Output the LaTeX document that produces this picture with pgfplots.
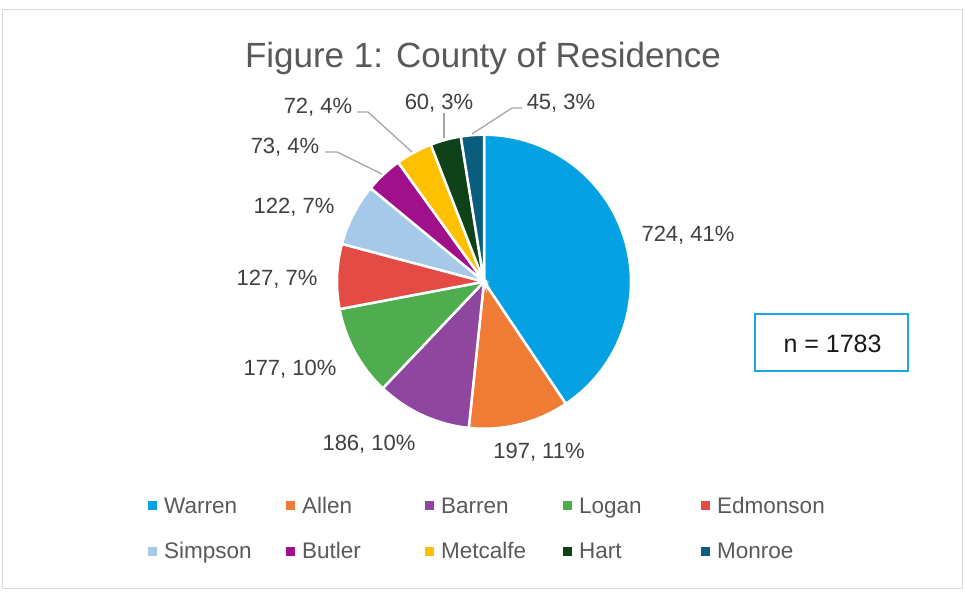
\documentclass[border=0pt]{standalone}
\usepackage{pgfplots}
\usepackage{pgfplotstable}
\pgfplotsset{compat=1.18}
\usepackage{fontspec}
\setmainfont{Liberation Sans}

\definecolor{pc0}{HTML}{06A1E3}
\definecolor{pc1}{HTML}{EF7B35}
\definecolor{pc2}{HTML}{8E469E}
\definecolor{pc3}{HTML}{4FAD50}
\definecolor{pc4}{HTML}{E54B45}
\definecolor{pc5}{HTML}{A6C9EA}
\definecolor{pc6}{HTML}{A0108B}
\definecolor{pc7}{HTML}{FFC000}
\definecolor{pc8}{HTML}{104219}
\definecolor{pc9}{HTML}{0B5D7E}
\definecolor{titlegray}{HTML}{595959}
\definecolor{lblgray}{HTML}{404040}
\definecolor{leadgray}{HTML}{A6A6A6}
\definecolor{framegray}{HTML}{D9D9D9}
\definecolor{boxblue}{HTML}{1CA6E2}

\pgfplotstableread{
county value
Warren 724
Allen 197
Barren 186
Logan 177
Edmonson 127
Simpson 122
Butler 73
Metcalfe 72
Hart 60
Monroe 45
}\piedata

\newcommand\lblfont{\fontsize{22bp}{26bp}\selectfont}
\newcommand\legfont{\fontsize{22.5bp}{26bp}\selectfont}
\def\total{1783}
\def\cx{484}
\def\cy{281.7}
\def\rr{147}

\begin{document}
\begin{tikzpicture}
\gdef\cum{0}
\begin{axis}[
  scale only axis, width=965bp, height=592bp,
  xmin=0, xmax=965, ymin=0, ymax=592, y dir=reverse,
  hide axis, clip=false,
]
\path (axis cs:0,0) rectangle (axis cs:965,592);
% frame
\draw[framegray, line width=1.3bp] (axis cs:2.5,9.5) rectangle (axis cs:962.5,588.5);

% pie slices, angles from the values
\pgfplotsinvokeforeach{0,...,9}{
  \pgfplotstablegetelem{#1}{value}\of\piedata
  \pgfmathsetmacro\sA{90-360*(\cum/\total)}
  \pgfmathsetmacro\cumnew{\cum+\pgfplotsretval}
  \global\let\cum\cumnew
  \pgfmathsetmacro\eA{90-360*(\cum/\total)}
  \global\let\sAng\sA
  \global\let\eAng\eA
  \addplot[fill=pc#1, draw=white, line width=2.5bp, domain=\eAng:\sAng, samples=80, variable=\t]
    ({\cx+\rr*cos(\t)},{\cy-\rr*sin(\t)}) -- (axis cs:\cx,\cy) -- cycle;
}

% leader lines
\addplot[leadgray, line width=1.3bp, mark=none] coordinates {(522,108) (512,108) (472,134)};
\addplot[leadgray, line width=1.3bp, mark=none] coordinates {(444,113) (444,138)};
\addplot[leadgray, line width=1.3bp, mark=none] coordinates {(357,112) (368,112) (412,152)};
\addplot[leadgray, line width=1.3bp, mark=none] coordinates {(325,152) (337,152) (382,174)};

% data labels
\begin{scope}[every node/.style={font=\lblfont, text=lblgray, anchor=base, inner sep=0pt}]
\node at (axis cs:688,241) {724, 41\%};
\node at (axis cs:539,458) {197, 11\%};
\node at (axis cs:369,450) {186, 10\%};
\node at (axis cs:290,375) {177, 10\%};
\node at (axis cs:277,285) {127, 7\%};
\node at (axis cs:294,213) {122, 7\%};
\node at (axis cs:285,153) {73, 4\%};
\node at (axis cs:318,113) {72, 4\%};
\node at (axis cs:439,109) {60, 3\%};
\node at (axis cs:561,109) {45, 3\%};
\end{scope}

% title
\node[font=\fontsize{35bp}{40bp}\selectfont, text=titlegray, anchor=base, inner sep=0pt] at (axis cs:483,68) {Figure 1: County of Residence};

% n box
\draw[boxblue, line width=2.5bp] (axis cs:755,314) rectangle (axis cs:908,371);
\node[font=\fontsize{25bp}{30bp}\selectfont, text=black!90, anchor=base, inner sep=0pt] at (axis cs:832.5,352) {n = 1783};

% legend
\addplot[only marks, mark=square*, mark size=4bp, pc0] coordinates {(152,505)};
\addplot[only marks, mark=square*, mark size=4bp, pc1] coordinates {(290,505)};
\addplot[only marks, mark=square*, mark size=4bp, pc2] coordinates {(429,505)};
\addplot[only marks, mark=square*, mark size=4bp, pc3] coordinates {(567,505)};
\addplot[only marks, mark=square*, mark size=4bp, pc4] coordinates {(705,505)};
\addplot[only marks, mark=square*, mark size=4bp, pc5] coordinates {(152,551)};
\addplot[only marks, mark=square*, mark size=4bp, pc6] coordinates {(290,551)};
\addplot[only marks, mark=square*, mark size=4bp, pc7] coordinates {(429,551)};
\addplot[only marks, mark=square*, mark size=4bp, pc8] coordinates {(567,551)};
\addplot[only marks, mark=square*, mark size=4bp, pc9] coordinates {(705,551)};
\begin{scope}[every node/.style={font=\legfont, text=titlegray, anchor=base west, inner sep=0pt}]
\node at (axis cs:164,513) {Warren};
\node at (axis cs:302,513) {Allen};
\node at (axis cs:441,513) {Barren};
\node at (axis cs:579,513) {Logan};
\node at (axis cs:717,513) {Edmonson};
\node at (axis cs:164,558) {Simpson};
\node at (axis cs:302,558) {Butler};
\node at (axis cs:441,558) {Metcalfe};
\node at (axis cs:579,558) {Hart};
\node at (axis cs:717,558) {Monroe};
\end{scope}
\end{axis}
\end{tikzpicture}
\end{document}
